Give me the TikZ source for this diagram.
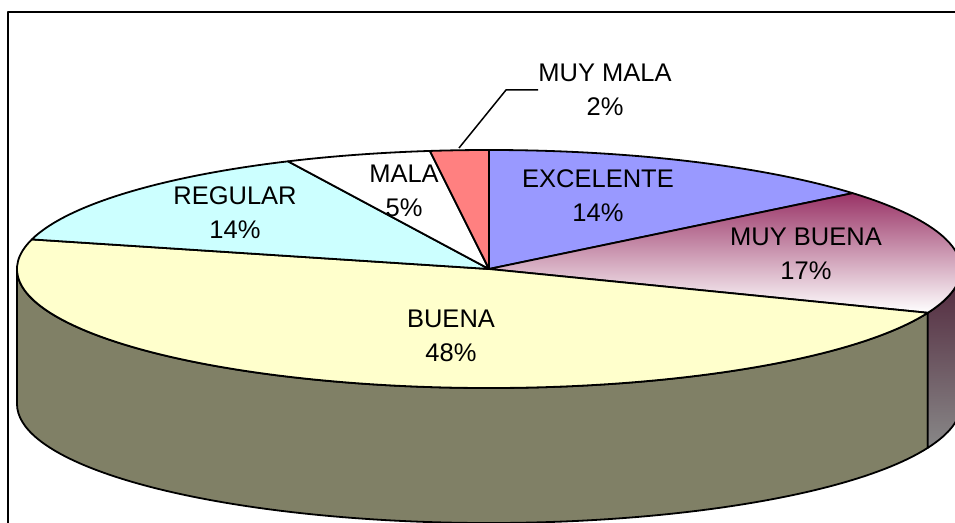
\documentclass[tikz,border=0pt]{standalone}
\usepackage{fontspec}
\setmainfont{Liberation Sans}
\usetikzlibrary{calc}
\definecolor{exc}{RGB}{153,153,255}
\definecolor{mb}{RGB}{153,51,102}
\definecolor{bue}{RGB}{255,255,204}
\definecolor{buside}{RGB}{128,128,102}
\definecolor{reg}{RGB}{204,255,255}
\definecolor{mm}{RGB}{255,128,128}
\definecolor{mbside}{RGB}{80,36,58}
\definecolor{mbsideb}{RGB}{136,136,136}
\newcommand\pieslice[3]{%
  \path[edge,#3] (C) -- ($(C)+(#1:472pt and 119pt)$)
    arc[start angle=#1,end angle=#2,x radius=472pt,y radius=119pt] -- cycle;}
\begin{document}
\begin{tikzpicture}[x=1pt,y=1pt,line join=round,
  edge/.style={draw=black,line width=1.8pt},
  lbl/.style={align=center,font=\fontsize{25.5}{34}\selectfont,inner sep=0pt},
  leader/.style={draw=black,line width=1.5pt}]
\useasboundingbox (0,0) rectangle (955,522);
\clip (0,0) rectangle (955,522);
\fill[white] (0,0) rectangle (955,522);
\coordinate (C) at (489,253);
% side walls
\path[edge,fill=buside] ($(C)+(180:472pt and 119pt)$)
  arc[start angle=180,end angle=338.4,x radius=472pt,y radius=119pt]
  -- ++(0,-135)
  arc[start angle=338.4,end angle=180,x radius=472pt,y radius=119pt] -- cycle;
\path[edge,top color=mbside,bottom color=mbsideb] ($(C)+(338.4:472pt and 119pt)$)
  arc[start angle=338.4,end angle=360,x radius=472pt,y radius=119pt]
  -- ++(0,-135)
  arc[start angle=360,end angle=338.4,x radius=472pt,y radius=119pt] -- cycle;
% top faces
\pieslice{90}{39.6}{fill=exc}
\pieslice{39.6}{-21.6}{top color=mb,bottom color=white}
\pieslice{-21.6}{-194.4}{fill=bue}
\pieslice{165.6}{115.2}{fill=reg}
\pieslice{115.2}{97.2}{fill=white}
\pieslice{97.2}{90}{fill=mm}
% labels
\node[lbl] (exc) at (598,326) {EXCELENTE\\14\%};
\node[lbl] (mbl) at (806,268) {MUY BUENA\\17\%};
\node[lbl] (bul) at (451,186) {BUENA\\48\%};
\node[lbl] (rel) at (235,309) {REGULAR\\14\%};
\node[lbl] (mal) at (404,331) {MALA\\5\%};
\node[lbl] (mml) at (605,432) {MUY MALA\\2\%};
% leader
\coordinate (mmtip) at (459,374);
\coordinate (mmbend) at (506,432);
\path[leader] (mmtip) -- (mmbend) -- (mml.west);
% frame
\draw[line width=2.2pt] (8,510) rectangle (975,-15);
\end{tikzpicture}
\end{document}
